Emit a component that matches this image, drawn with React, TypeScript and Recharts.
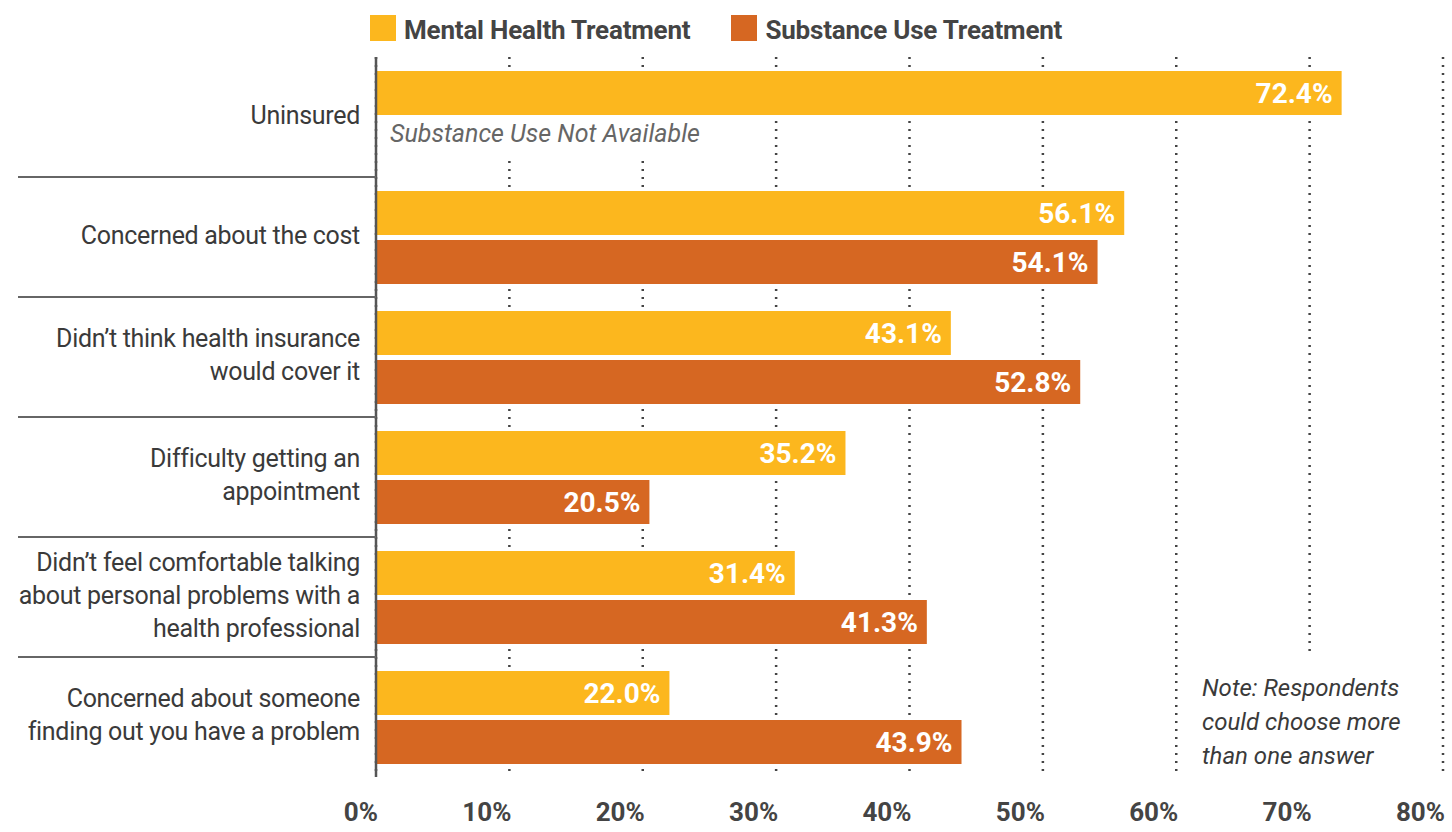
import React from 'react'
import { BarChart, Bar, XAxis, YAxis, CartesianGrid, Legend, LabelList } from 'recharts'

document.body.style.margin = '0'

const categories = [
  'Uninsured',
  'Concerned about the cost',
  'Didn’t think health insurance\nwould cover it',
  'Difficulty getting an\nappointment',
  'Didn’t feel comfortable talking\nabout personal problems with a\nhealth professional',
  'Concerned about someone\nfinding out you have a problem',
]
const mentalHealth = [72.4, 56.1, 43.1, 35.2, 31.4, 22.0]
const substanceUse = [null, 54.1, 52.8, 20.5, 41.3, 43.9]
const xTicks = [0, 10, 20, 30, 40, 50, 60, 70, 80]

const data = categories.map((name, i) => ({
  name,
  mental: mentalHealth[i],
  substance: substanceUse[i],
}))

const W = 1452
const H = 832
const PLOT_LEFT = 376
const PLOT_TOP = 57
const PLOT_BOTTOM = 777
const BAND = (PLOT_BOTTOM - PLOT_TOP) / categories.length

const YELLOW = '#FCB71E'
const ORANGE = '#D66722'
const TEXT = '#3a3a3a'

function CategoryTick(props: any) {
  const { y, payload, index } = props
  const lines = String(payload.value).split('\n')
  const lh = 33
  const top = y - ((lines.length - 1) * lh) / 2 - 2
  return (
    <g>
      <text textAnchor="end" fontSize={25} letterSpacing={-0.3} fill={TEXT}>
        {lines.map((l, i) => (
          <tspan key={i} x={360} y={top + i * lh} dy="0.35em">
            {l}
          </tspan>
        ))}
      </text>
      {index < categories.length - 1 && (
        <line x1={18} x2={PLOT_LEFT} y1={y + BAND / 2} y2={y + BAND / 2} stroke="#666" strokeWidth={2} />
      )}
      {index === 0 && (
        <g>
          <rect x={PLOT_LEFT + 8} y={y + 0} width={352} height={40} fill="#fff" />
          <text x={PLOT_LEFT + 14} y={y + 16} dy="0.35em" fontSize={25} fontStyle="italic" fill="#666">
            Substance Use Not Available
          </text>
        </g>
      )}
    </g>
  )
}

function PercentTick(props: any) {
  const { x, y, payload } = props
  return (
    <text x={x + 2} y={y + 27} dy="0.35em" textAnchor="end" fontSize={26} fontWeight={700} fill="#444">
      {payload.value}%
    </text>
  )
}

function LegendContent(props: any) {
  const { payload = [] } = props
  return (
    <div style={{ display: 'flex', height: 45, paddingLeft: 370, paddingTop: 3, boxSizing: 'border-box' }}>
      {payload.map((p: any) => (
        <div key={p.value} style={{ display: 'flex', alignItems: 'flex-start', marginRight: 41 }}>
          <span style={{ width: 26, height: 26, background: p.color, marginRight: 8, display: 'inline-block' }} />
          <span style={{ fontSize: 26, fontWeight: 700, color: '#444', lineHeight: '28px', marginTop: 1, letterSpacing: -0.2 }}>
            {p.value}
          </span>
        </div>
      ))}
    </div>
  )
}

const fmt = (v: any) => (v == null ? '' : `${Number(v).toFixed(1)}%`)

export default function App() {
  return (
    <div style={{ position: 'relative', width: W, height: H, fontFamily: 'Roboto, sans-serif', background: '#fff' }}>
      <BarChart
        width={W}
        height={H}
        data={data}
        layout="vertical"
        margin={{ top: 12, right: 9, bottom: 0, left: 0 }}
        barSize={44}
        barGap={5}
      >
        <Legend verticalAlign="top" align="left" content={<LegendContent />} />
        <CartesianGrid horizontal={false} stroke="#444" strokeWidth={2.5} strokeDasharray="2 6" />
        <XAxis
          type="number"
          domain={[0, 80]}
          ticks={xTicks}
          axisLine={false}
          tickLine={false}
          tick={<PercentTick />}
          height={55}
        />
        <YAxis
          type="category"
          dataKey="name"
          width={PLOT_LEFT}
          interval={0}
          axisLine={{ stroke: '#555', strokeWidth: 2.5 }}
          tickLine={false}
          tick={<CategoryTick />}
        />
        <Bar dataKey="mental" name="Mental Health Treatment" fill={YELLOW} isAnimationActive={false}>
          <LabelList
            dataKey="mental"
            position="insideRight"
            offset={9}
            formatter={fmt}
            fill="#fff"
            fontSize={28}
            fontWeight={700}
          />
        </Bar>
        <Bar dataKey="substance" name="Substance Use Treatment" fill={ORANGE} isAnimationActive={false}>
          <LabelList
            dataKey="substance"
            position="insideRight"
            offset={9}
            formatter={fmt}
            fill="#fff"
            fontSize={28}
            fontWeight={700}
          />
        </Bar>
      </BarChart>
      <div
        style={{
          position: 'absolute',
          left: 1195,
          top: 655,
          width: 215,
          height: 122,
          background: '#fff',
          paddingTop: 16,
          paddingLeft: 7,
          boxSizing: 'border-box',
          fontSize: 24,
          fontStyle: 'italic',
          lineHeight: '34px',
          color: TEXT,
        }}
      >
        Note: Respondents
        <br />
        could choose more
        <br />
        than one answer
      </div>
    </div>
  )
}
